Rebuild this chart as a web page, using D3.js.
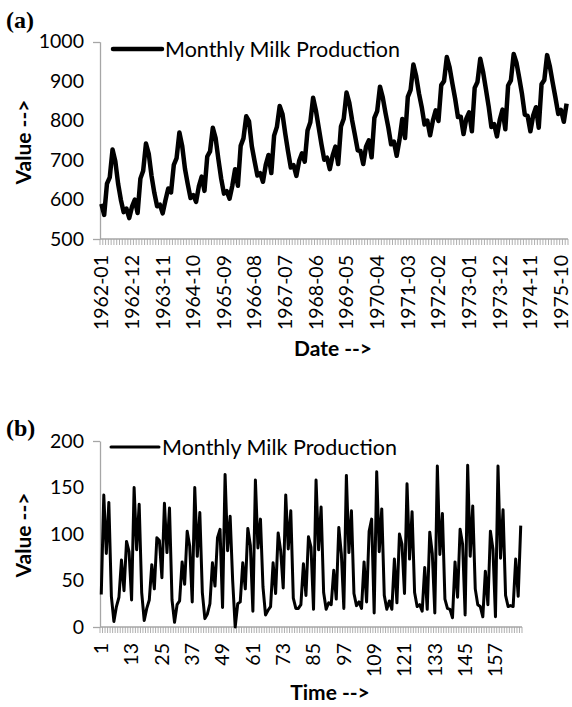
<!DOCTYPE html>
<html>
<head>
<meta charset="utf-8">
<script src="https://cdn.jsdelivr.net/npm/d3@7"></script>
<style>
  body { margin: 0; background: #fff; }
  svg text { font-family: Lato, "Open Sans", sans-serif; fill: #000; }
  .panelTag { font-family: "Liberation Serif", "DejaVu Serif", serif; font-weight: bold; font-size: 24px; }
  .axisTitle { font-weight: bold; font-size: 21px; }
  .tickText { font-size: 19.5px; }
  .legendText { font-size: 21.5px; }
</style>
</head>
<body>
<svg id="chart" width="572" height="707"></svg>
<script>
// Panel (a) - monthly milk production, 1962-01 .. 1975-12
var milkValues = [
  589, 561, 640, 656, 727, 697, 640, 599, 568, 577, 553, 582,
  600, 566, 653, 673, 742, 716, 660, 617, 583, 587, 565, 598,
  628, 618, 688, 705, 770, 736, 678, 639, 604, 611, 594, 634,
  658, 622, 709, 722, 782, 756, 702, 653, 615, 621, 602, 635,
  677, 635, 736, 755, 811, 798, 735, 697, 661, 667, 645, 688,
  713, 667, 762, 784, 837, 817, 767, 722, 681, 687, 660, 698,
  717, 696, 775, 796, 858, 826, 783, 740, 701, 706, 677, 711,
  734, 690, 785, 805, 871, 845, 801, 764, 725, 723, 690, 734,
  750, 707, 807, 824, 886, 859, 819, 783, 740, 747, 711, 751,
  804, 756, 860, 878, 942, 913, 869, 834, 790, 800, 763, 800,
  826, 799, 890, 900, 961, 935, 894, 855, 809, 810, 766, 805,
  821, 773, 883, 898, 957, 924, 881, 837, 784, 791, 760, 802,
  828, 778, 889, 902, 969, 947, 908, 867, 815, 812, 773, 813,
  834, 782, 892, 903, 966, 937, 896, 858, 817, 827, 797, 843
];

// Panel (b), time steps 1 .. 167
var timeValues = [
  35, 142, 79, 134, 33, 6, 22, 32, 72, 39, 92, 81,
  29, 150, 83, 132, 37, 7, 20, 29, 67, 41, 96, 93,
  53, 133, 80, 128, 29, 5, 24, 28, 70, 46, 103, 87,
  27, 150, 76, 123, 37, 9, 14, 25, 69, 44, 96, 105,
  21, 164, 82, 119, 50, 0, 25, 27, 69, 41, 106, 88,
  17, 158, 85, 116, 43, 13, 18, 22, 69, 36, 101, 82,
  42, 142, 84, 125, 31, 20, 20, 24, 68, 34, 97, 86,
  19, 158, 83, 129, 37, 19, 26, 24, 61, 30, 107, 79,
  20, 163, 80, 125, 36, 23, 27, 20, 70, 27, 103, 116,
  15, 167, 81, 127, 34, 19, 28, 19, 73, 26, 100, 89,
  36, 154, 73, 124, 37, 22, 24, 17, 64, 19, 102, 79,
  15, 173, 78, 122, 30, 20, 19, 10, 70, 32, 105, 89,
  13, 174, 76, 130, 41, 24, 22, 11, 60, 24, 103, 84,
  11, 173, 74, 126, 34, 22, 23, 22, 73, 33, 109
];

var dateTicks = ['1962-01', '1962-12', '1963-11', '1964-10', '1965-09', '1966-08',
  '1967-07', '1968-06', '1969-05', '1970-04', '1971-03', '1972-02',
  '1973-01', '1973-12', '1974-11', '1975-10'];
var timeTicks = ['1', '13', '25', '37', '49', '61', '73', '85', '97', '109', '121', '133', '145', '157'];

var valueTicksA = [500, 600, 700, 800, 900, 1000];
var valueTicksB = [0, 50, 100, 150, 200];

var legendLabel = 'Monthly Milk Production';

// category names for both x axes
var dateCats = [];
for (var yr = 1962; yr <= 1975; yr++) {
  for (var mo = 1; mo <= 12; mo++) {
    dateCats.push(yr + '-' + (mo < 10 ? '0' + mo : mo));
  }
}
var timeCats = timeValues.map(function(d, i) { return String(i + 1); });

var svg = d3.select('#chart');
var AXIS_GREY = '#a6a6a6';

function draw_panel(p) {
  var g = svg.append('g');

  var x = d3.scalePoint()
    .domain(p.cats)
    .range([p.left, p.right])
    .padding(0.5);
  var step = x.step();

  var y = d3.scaleLinear()
    .domain([p.ticks[0], p.ticks[p.ticks.length - 1]])
    .range([p.bottom, p.top]);

  // y axis: labels at every tick, marks only at the ends
  var yAxis = g.append('g')
    .attr('transform', 'translate(' + p.left + ',0)')
    .call(d3.axisLeft(y).tickValues(p.ticks).tickFormat(d3.format('d')).tickSize(0).tickPadding(16));
  yAxis.select('.domain').attr('stroke', AXIS_GREY).attr('stroke-width', 1.3);
  yAxis.selectAll('text').attr('class', 'tickText').attr('font-size', null).attr('font-family', null);

  [p.ticks[0], p.ticks[p.ticks.length - 1]].forEach(function(v) {
    g.append('line')
      .attr('x1', p.left - 7).attr('x2', p.left)
      .attr('y1', Math.round(y(v)) + 0.5).attr('y2', Math.round(y(v)) + 0.5)
      .attr('stroke', AXIS_GREY).attr('stroke-width', 1.3);
  });

  // x axis with a mark at every category boundary
  g.append('line')
    .attr('x1', p.left).attr('x2', p.right)
    .attr('y1', p.bottom).attr('y2', p.bottom)
    .attr('stroke', AXIS_GREY).attr('stroke-width', 1.3);

  g.selectAll('.catTick')
    .data(d3.range(p.cats.length + 1))
    .enter().append('line')
    .attr('class', 'catTick')
    .attr('x1', function(i) { return p.left + i * step; })
    .attr('x2', function(i) { return p.left + i * step; })
    .attr('y1', p.bottom)
    .attr('y2', p.bottom + 6)
    .attr('stroke', AXIS_GREY)
    .attr('stroke-width', 0.9);

  g.selectAll('.xLabel')
    .data(p.tickLabels)
    .enter().append('text')
    .attr('class', 'xLabel tickText')
    .attr('transform', function(d) {
      return 'translate(' + x(d) + ',' + (p.bottom + 16) + ') rotate(-90)';
    })
    .attr('text-anchor', 'end')
    .attr('dy', '0.35em')
    .text(function(d) { return d; });

  // series
  var line = d3.line()
    .x(function(d, i) { return x(p.cats[i]); })
    .y(function(d) { return y(d); });

  g.append('path')
    .datum(p.values)
    .attr('d', line)
    .attr('fill', 'none')
    .attr('stroke', '#000')
    .attr('stroke-width', p.lineWidth)
    .attr('stroke-linejoin', 'round');

  // legend
  g.append('line')
    .attr('x1', p.legendX1).attr('x2', p.legendX2)
    .attr('y1', p.legendY).attr('y2', p.legendY)
    .attr('stroke', '#000')
    .attr('stroke-width', p.lineWidth)
    .attr('stroke-linecap', 'round');
  g.append('text')
    .attr('class', 'legendText')
    .attr('x', p.legendX2 + 3)
    .attr('y', p.legendY)
    .attr('dy', '0.35em')
    .text(legendLabel);

  // titles
  g.append('text')
    .attr('class', 'axisTitle')
    .attr('transform', 'translate(31,' + p.yTitleY + ') rotate(-90)')
    .attr('text-anchor', 'middle')
    .text('Value -->');
  g.append('text')
    .attr('class', 'axisTitle')
    .attr('x', p.xTitleX)
    .attr('y', p.xTitleY)
    .attr('text-anchor', 'middle')
    .text(p.xTitle);

  g.append('text')
    .attr('class', 'panelTag')
    .attr('x', 6)
    .attr('y', p.tagY)
    .text(p.tag);
}

draw_panel({
  cats: dateCats, values: milkValues, ticks: valueTicksA, tickLabels: dateTicks,
  left: 100, right: 568, top: 41.7, bottom: 239,
  lineWidth: 4.5,
  legendX1: 113, legendX2: 162, legendY: 49,
  yTitleY: 142, xTitle: 'Date -->', xTitleX: 333, xTitleY: 356,
  tag: '(a)', tagY: 28
});

draw_panel({
  cats: timeCats, values: timeValues, ticks: valueTicksB, tickLabels: timeTicks,
  left: 100, right: 522, top: 441, bottom: 627,
  lineWidth: 3,
  legendX1: 111, legendX2: 159, legendY: 447,
  yTitleY: 535, xTitle: 'Time -->', xTitleX: 330, xTitleY: 700,
  tag: '(b)', tagY: 436
});
</script>
</body>
</html>
